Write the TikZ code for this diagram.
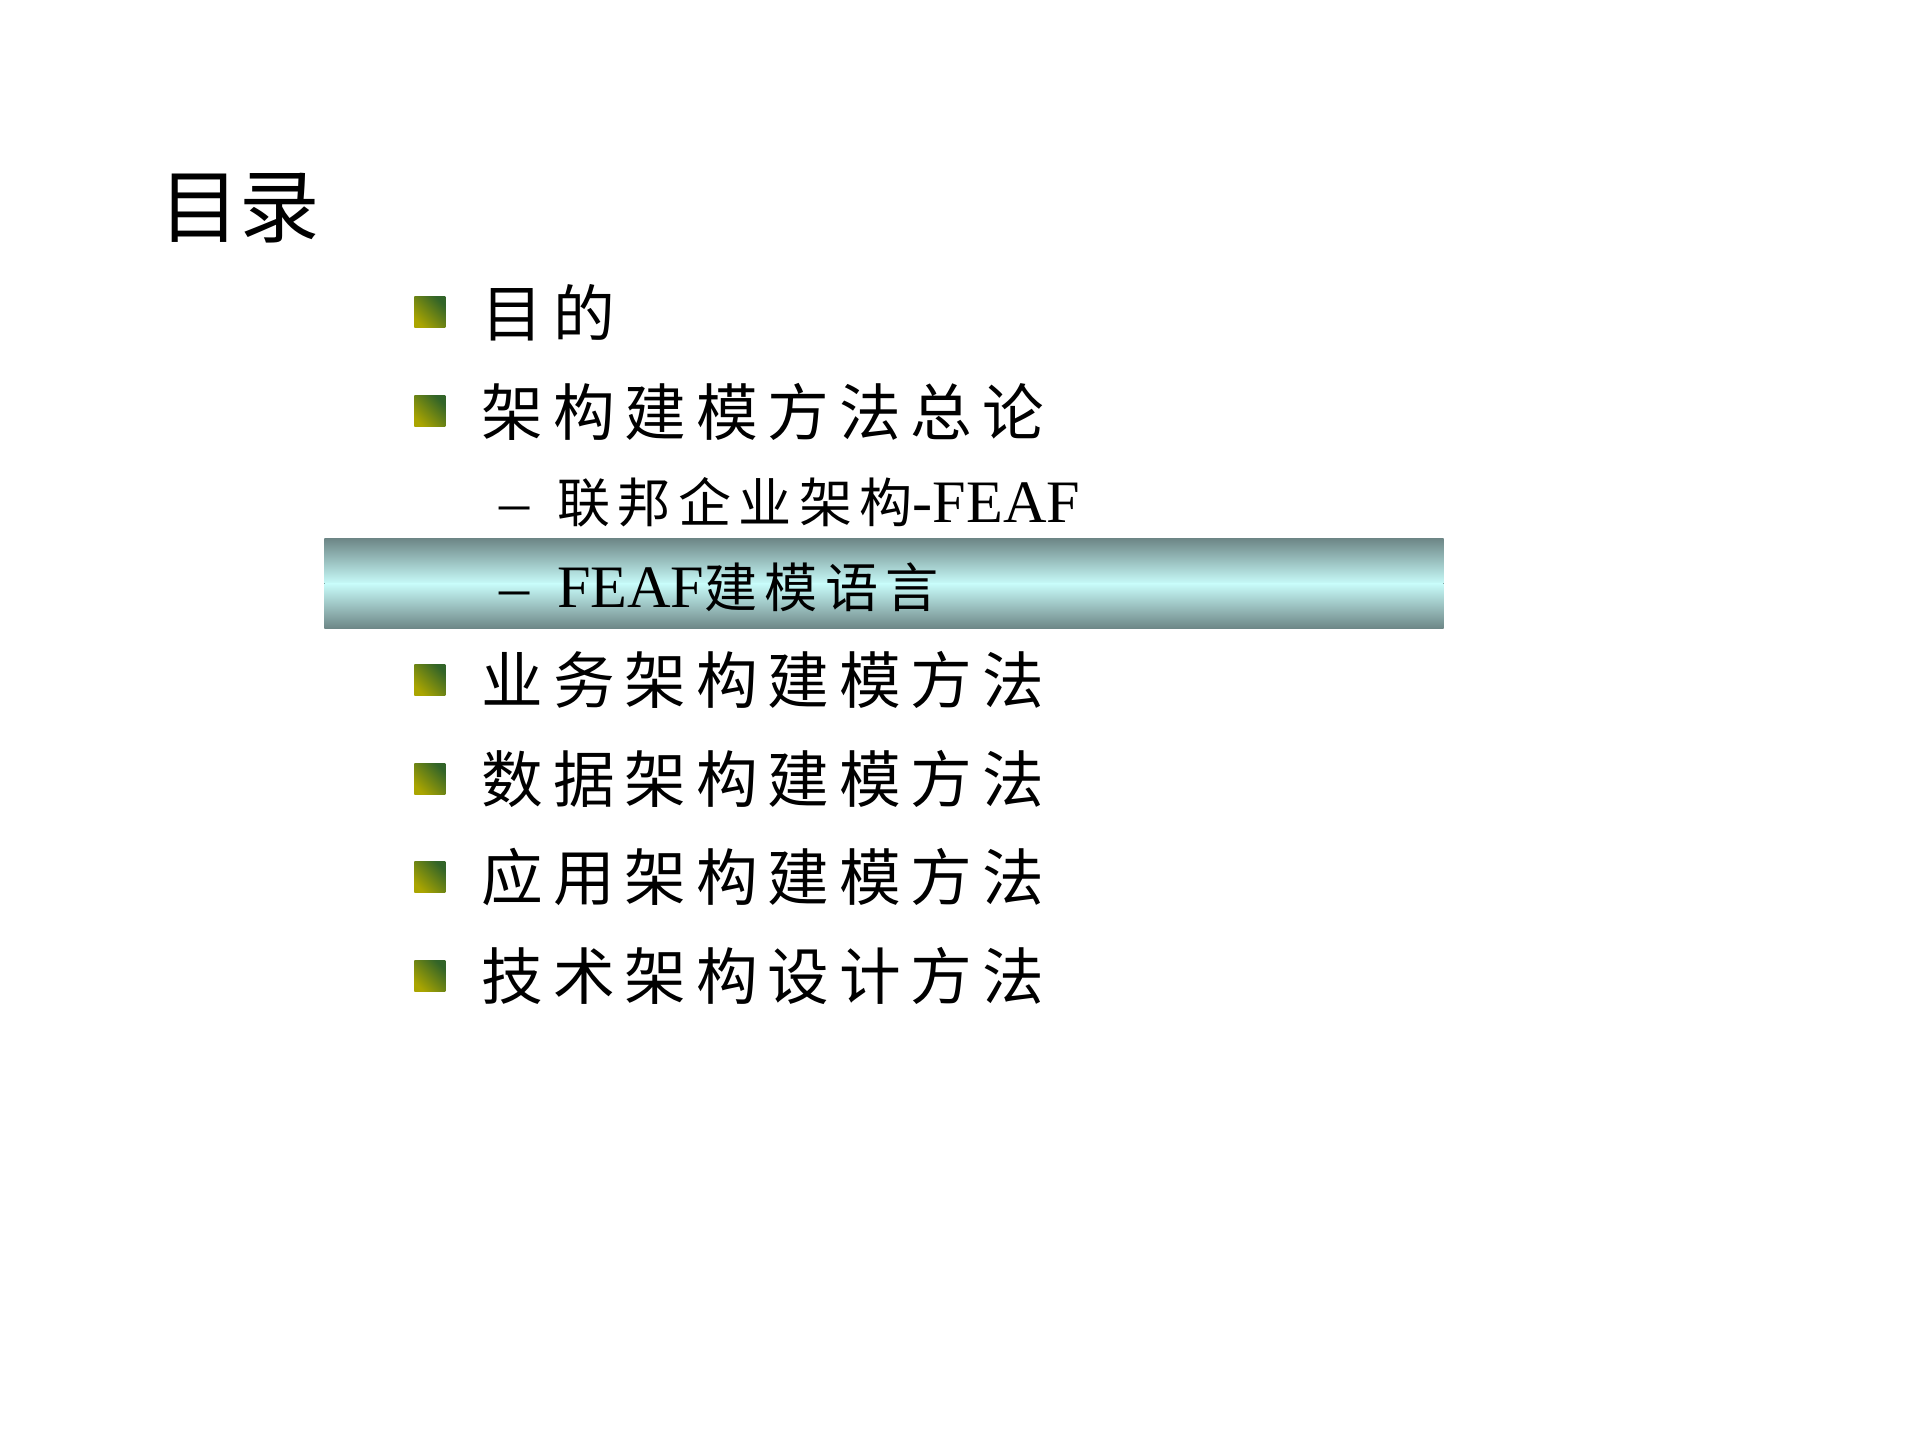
\documentclass[tikz,border=0pt]{standalone}
\usepackage{fontspec}
\setmainfont{Liberation Serif}
\newfontfamily\cjk{Noto Sans CJK SC}[LetterSpace=16]
\newfontfamily\cjksub{Noto Sans CJK SC}[LetterSpace=14]
\newfontfamily\cjktitle{Noto Sans CJK SC}
\definecolor{bandmid}{RGB}{200,252,250}
\definecolor{bandedge}{RGB}{110,135,135}
\definecolor{bulA}{RGB}{50,100,40}
\definecolor{bulB}{RGB}{170,165,0}
\begin{document}
\begin{tikzpicture}[x=0.3mm,y=-0.3mm,
  item/.style={anchor=west,inner sep=0,font=\fontsize{43}{46}\selectfont\cjk},
  sub/.style={anchor=west,inner sep=0,font=\fontsize{42}{46}\selectfont},
  bul/.style={minimum size=7.6mm,inner sep=0,shading=axis,left color=bulA,right color=bulB,shading angle=-45}]
\useasboundingbox (0,0) rectangle (1568,1176);
\fill[top color=bandedge,bottom color=bandmid] (265,440) rectangle (1179,477);
\fill[top color=bandmid,bottom color=bandedge] (265,476.5) rectangle (1179,513);
\node[anchor=west,inner sep=0,font=\fontsize{56}{60}\selectfont\cjktitle] (title) at (130,170) {目录};
\foreach \n/\y/\t in {a/255/目的,b/336/架构建模方法总论,c/555/业务架构建模方法,d/636/数据架构建模方法,e/716/应用架构建模方法,f/797/技术架构设计方法}{
  \node[bul] (bul\n) at (351,\y) {};
  \node[item] (txt\n) at (393,\y) {\t};
}
\node[sub] (s1) at (408,410) {–\hspace{0.45em}{\fontsize{37}{40}\selectfont\cjksub 联邦企业架构}-FEAF};
\node[sub] (s2) at (408,480) {–\hspace{0.45em}FEAF{\fontsize{37}{40}\selectfont\cjksub 建模语言}};
\end{tikzpicture}
\end{document}
